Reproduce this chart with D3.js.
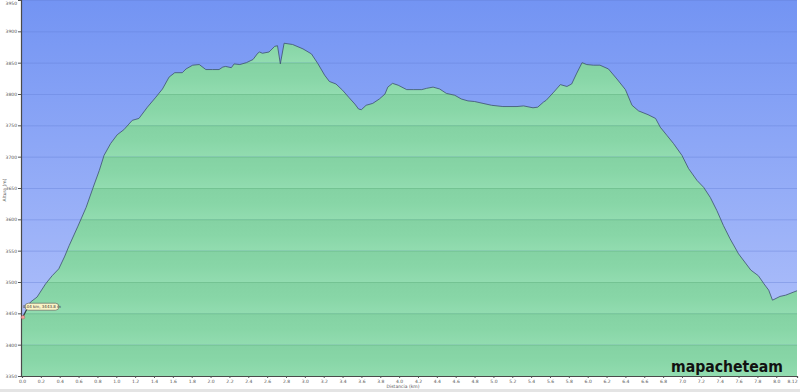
<!DOCTYPE html>
<html>
<head>
<meta charset="utf-8">
<script src="https://cdn.jsdelivr.net/npm/d3@7"></script>
<style>
body { margin: 0; background: #fff; }
svg { display: block; font-family: "DejaVu Sans", sans-serif; }
</style>
</head>
<body>
<svg id="profile" width="800" height="392"></svg>
<script>
// profile (km / m)
const distances = [0.00, 0.09, 0.16, 0.25, 0.32, 0.39, 0.45, 0.50, 0.59, 0.68, 0.75, 0.82, 0.87, 0.94, 1.01, 1.08, 1.17, 1.24, 1.33, 1.42, 1.49, 1.56, 1.62, 1.70, 1.74, 1.81, 1.88, 1.95, 2.02, 2.09, 2.13, 2.16, 2.22, 2.25, 2.31, 2.38, 2.45, 2.50, 2.52, 2.55, 2.62, 2.68, 2.71, 2.74, 2.78, 2.87, 2.98, 3.07, 3.14, 3.21, 3.26, 3.33, 3.40, 3.47, 3.53, 3.57, 3.60, 3.65, 3.72, 3.79, 3.85, 3.88, 3.93, 3.99, 4.08, 4.15, 4.24, 4.29, 4.36, 4.43, 4.50, 4.59, 4.66, 4.73, 4.80, 4.89, 4.98, 5.10, 5.25, 5.32, 5.42, 5.47, 5.53, 5.56, 5.64, 5.71, 5.78, 5.83, 5.88, 5.94, 5.99, 6.06, 6.13, 6.22, 6.31, 6.40, 6.47, 6.54, 6.64, 6.72, 6.77, 6.84, 6.91, 7.00, 7.07, 7.16, 7.23, 7.30, 7.37, 7.44, 7.51, 7.60, 7.73, 7.81, 7.87, 7.92, 7.96, 8.04, 8.10, 8.22];
const elevations = [3443, 3468, 3476, 3497, 3510, 3521, 3540, 3558, 3588, 3619, 3649, 3678, 3702, 3721, 3735, 3743, 3758, 3761, 3779, 3795, 3808, 3827, 3834, 3834, 3840, 3846, 3847, 3839, 3839, 3839, 3843, 3844, 3842, 3848, 3847, 3850, 3855, 3865, 3867, 3865, 3867, 3876, 3877, 3848, 3881, 3879, 3872, 3864, 3848, 3830, 3820, 3816, 3806, 3794, 3784, 3776, 3775, 3782, 3785, 3792, 3800, 3811, 3817, 3814, 3807, 3807, 3807, 3809, 3811, 3808, 3801, 3798, 3792, 3789, 3788, 3785, 3782, 3780, 3780, 3781, 3778, 3779, 3787, 3790, 3803, 3815, 3812, 3816, 3832, 3850, 3847, 3846, 3846, 3840, 3824, 3807, 3782, 3773, 3767, 3761, 3747, 3734, 3721, 3702, 3681, 3662, 3651, 3635, 3614, 3590, 3569, 3545, 3519, 3510, 3497, 3487, 3471, 3477, 3479, 3486];

const yTicks = [3350, 3400, 3450, 3500, 3550, 3600, 3650, 3700, 3750, 3800, 3850, 3900, 3950];
const xTicks = [0, 0.2, 0.4, 0.6, 0.8, 1.0, 1.2, 1.4, 1.6, 1.8, 2.0, 2.2, 2.4, 2.6, 2.8, 3.0, 3.2, 3.4, 3.6, 3.8, 4.0, 4.2, 4.4, 4.6, 4.8, 5.0, 5.2, 5.4, 5.6, 5.8, 6.0, 6.2, 6.4, 6.6, 6.8, 7.0, 7.2, 7.4, 7.6, 7.8, 8.0, 8.22];
const xTickLabels = ["0.0", "0.2", "0.4", "0.6", "0.8", "1.0", "1.2", "1.4", "1.6", "1.8", "2.0", "2.2", "2.4", "2.6", "2.8", "3.0", "3.2", "3.4", "3.6", "3.8", "4.0", "4.2", "4.4", "4.6", "4.8", "5.0", "5.2", "5.4", "5.6", "5.8", "6.0", "6.2", "6.4", "6.6", "6.8", "7.0", "7.2", "7.4", "7.6", "7.8", "8.0", "8.12"];

// marker shown on the chart
const markerKm = 0.01;
const markerElev = 3443.8;
const markerText = "0.04 km, 3443.8 m";

const data = distances.map((d, i) => ({ km: d, elev: elevations[i] }));

const plot = { left: 21, right: 797, top: 0, bottom: 376 };

const svg = d3.select("#profile");
const defs = svg.append("defs");

const x = d3.scaleLinear()
	.domain([0, 8.22])
	.range([22, plot.right]);

const y = d3.scaleLinear()
	.domain([3350, 3950])
	.range([plot.bottom, plot.top]);

// background gradient (sky)
const sky = defs.append("linearGradient")
	.attr("id", "sky")
	.attr("x1", 0).attr("y1", 0).attr("x2", 0).attr("y2", 1);
sky.append("stop").attr("offset", "0%").attr("stop-color", "#7394f3");
sky.append("stop").attr("offset", "100%").attr("stop-color", "#b6c5fb");

// one band of the green fill: a bit darker at top, lighter at bottom
const band = defs.append("linearGradient")
	.attr("id", "band")
	.attr("x1", 0).attr("y1", 0).attr("x2", 0).attr("y2", 1);
band.append("stop").attr("offset", "0%").attr("stop-color", "#84d2a3");
band.append("stop").attr("offset", "50%").attr("stop-color", "#88d6a7");
band.append("stop").attr("offset", "100%").attr("stop-color", "#92dcb0");

const area = d3.area()
	.x(d => x(d.km))
	.y0(plot.bottom)
	.y1(d => y(d.elev));

const line = d3.line()
	.x(d => x(d.km))
	.y(d => y(d.elev));

defs.append("clipPath")
	.attr("id", "ground")
	.append("path")
	.attr("d", area(data));

svg.append("rect")
	.attr("x", plot.left)
	.attr("y", plot.top)
	.attr("width", plot.right - plot.left)
	.attr("height", plot.bottom - plot.top)
	.attr("fill", "url(#sky)");

// grid in the sky
svg.append("g")
	.selectAll("line")
	.data(yTicks)
	.enter()
	.append("line")
	.attr("x1", plot.left)
	.attr("x2", plot.right)
	.attr("y1", d => y(d) + 0.5)
	.attr("y2", d => y(d) + 0.5)
	.attr("stroke", "#6580d8")
	.attr("stroke-opacity", 0.4)
	.attr("stroke-width", 1);

// ground bands
const ground = svg.append("g").attr("clip-path", "url(#ground)");

ground.selectAll("rect")
	.data(yTicks.slice(1))
	.enter()
	.append("rect")
	.attr("x", plot.left)
	.attr("width", plot.right - plot.left)
	.attr("y", d => y(d))
	.attr("height", d => y(d - 50) - y(d))
	.attr("fill", "url(#band)");

ground.selectAll("line")
	.data(yTicks)
	.enter()
	.append("line")
	.attr("x1", plot.left)
	.attr("x2", plot.right)
	.attr("y1", d => y(d) + 0.5)
	.attr("y2", d => y(d) + 0.5)
	.attr("stroke", "#74c393")
	.attr("stroke-width", 1);

svg.append("path")
	.attr("d", line(data))
	.attr("fill", "none")
	.attr("stroke", "#3d506e")
	.attr("stroke-width", 0.8);

// watermark
svg.append("text")
	.attr("x", 783)
	.attr("y", 372)
	.attr("text-anchor", "end")
	.attr("font-size", 16)
	.attr("font-weight", "bold")
	.attr("font-family", "DejaVu Sans Condensed, DejaVu Sans, sans-serif")
	.attr("textLength", 112)
	.attr("lengthAdjust", "spacingAndGlyphs")
	.attr("fill", "#111")
	.text("mapacheteam");

// axes
const yAxis = svg.append("g")
	.attr("transform", "translate(" + plot.left + ",0)")
	.call(d3.axisLeft(y).tickValues(yTicks).tickFormat(d3.format("d")).tickSize(3).tickPadding(1));

const xAxis = svg.append("g")
	.attr("transform", "translate(0," + plot.bottom + ")")
	.call(d3.axisBottom(x).tickValues(xTicks).tickFormat((d, i) => xTickLabels[i]).tickSize(2).tickPadding(2));

[yAxis, xAxis].forEach(g => {
	g.select(".domain").attr("stroke", "#4a4a4a").attr("stroke-width", 1.2);
	g.selectAll(".tick line").attr("stroke", "#555");
	g.selectAll("text").attr("font-size", 4.5).attr("fill", "#555").attr("font-family", "DejaVu Sans, sans-serif");
});

// keep the top label inside the picture
yAxis.selectAll(".tick text")
	.filter(d => d === 3950)
	.attr("dy", "0.9em");

xAxis.selectAll(".tick text")
	.filter((d, i) => i === xTicks.length - 1)
	.attr("text-anchor", "end");

svg.append("text")
	.attr("transform", "translate(6," + 190 + ") rotate(-90)")
	.attr("text-anchor", "middle")
	.attr("font-size", 4.5)
	.attr("fill", "#555")
	.text("Altura (m)");

svg.append("text")
	.attr("x", 403)
	.attr("y", 388)
	.attr("text-anchor", "middle")
	.attr("font-size", 4.5)
	.attr("fill", "#555")
	.text("Distancia (km)");

svg.append("rect")
	.attr("x", 0)
	.attr("y", 389)
	.attr("width", 800)
	.attr("height", 3)
	.attr("fill", "#e4e4e4");

// position marker with label
const mx = x(markerKm), my = y(markerElev);
svg.append("line")
	.attr("x1", mx).attr("y1", my)
	.attr("x2", mx + 4).attr("y2", my - 8)
	.attr("stroke", "#222")
	.attr("stroke-width", 0.8);
svg.append("rect")
	.attr("x", mx + 2)
	.attr("y", my - 14)
	.attr("width", 34)
	.attr("height", 7)
	.attr("rx", 3.5)
	.attr("fill", "#fbf4c6")
	.attr("stroke", "#555")
	.attr("stroke-width", 0.6);
svg.append("text")
	.attr("x", mx + 19)
	.attr("y", my - 9)
	.attr("text-anchor", "middle")
	.attr("font-size", 4)
	.attr("fill", "#333")
	.text(markerText);
svg.append("circle")
	.attr("cx", mx)
	.attr("cy", my)
	.attr("r", 1.8)
	.attr("fill", "#f3a0a0")
	.attr("stroke", "#b05050")
	.attr("stroke-width", 0.4);
</script>
</body>
</html>
